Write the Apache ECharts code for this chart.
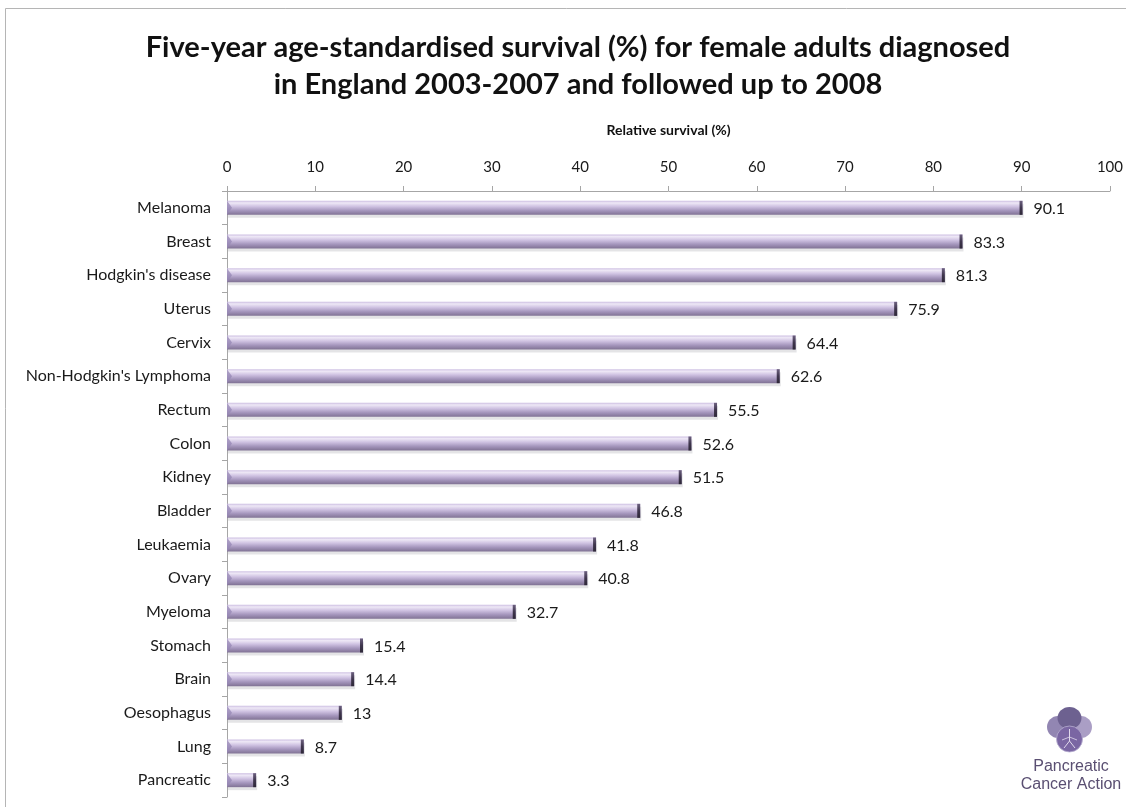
<!DOCTYPE html>
<html>
<head>
<meta charset="utf-8">
<script src="https://cdn.jsdelivr.net/npm/echarts@6/dist/echarts.min.js"></script>
<style>
  html, body { margin: 0; padding: 0; background: #ffffff; }
  #chart { width: 1126px; height: 807px; }
</style>
</head>
<body>
<div id="chart"></div>
<script>
// Five-year relative survival by cancer site, women, England
const categories = [
  'Melanoma', 'Breast', "Hodgkin's disease", 'Uterus', 'Cervix',
  "Non-Hodgkin's Lymphoma", 'Rectum', 'Colon', 'Kidney', 'Bladder',
  'Leukaemia', 'Ovary', 'Myeloma', 'Stomach', 'Brain', 'Oesophagus',
  'Lung', 'Pancreatic'
];
const survival = [
  90.1, 83.3, 81.3, 75.9, 64.4,
  62.6, 55.5, 52.6, 51.5, 46.8,
  41.8, 40.8, 32.7, 15.4, 14.4, 13,
  8.7, 3.3
];
const xTicks = [0, 10, 20, 30, 40, 50, 60, 70, 80, 90, 100];

const FONT = 'Lato, "Open Sans", sans-serif';

const chart = echarts.init(document.getElementById('chart'), null, { renderer: 'canvas' });

// Bevelled lavender bar with a dark end cap and a soft drop shadow
function renderBar(params, api) {
  const idx = api.value(0);
  const val = api.value(1);
  const p0 = api.coord([0, idx]);
  const p1 = api.coord([val, idx]);
  const band = api.size([0, 1])[1];
  const h = Math.round(band * 0.42);
  const y = p0[1] - h / 2;
  const w = p1[0] - p0[0];
  const cap = 3;
  return {
    type: 'group',
    children: [
      {
        type: 'rect',
        shape: { x: p0[0] + 1, y: y + 3, width: w, height: h },
        style: { fill: 'rgba(120,120,130,0.2)' },
        silent: true
      },
      {
        type: 'rect',
        shape: { x: p0[0], y: y, width: w, height: h },
        style: {
          fill: new echarts.graphic.LinearGradient(0, 0, 0, 1, [
            { offset: 0, color: '#cdbfe2' },
            { offset: 0.15, color: '#eee8f6' },
            { offset: 0.4, color: '#cfc2e2' },
            { offset: 0.7, color: '#a495bc' },
            { offset: 1, color: '#807294' }
          ])
        }
      },
      {
        type: 'polygon',
        shape: { points: [[p0[0], y], [p0[0] + 5, y + h / 2], [p0[0], y + h]] },
        style: { fill: 'rgba(150,135,180,0.75)' }
      },
      {
        type: 'rect',
        shape: { x: p1[0] - cap, y: y, width: cap, height: h },
        style: {
          fill: new echarts.graphic.LinearGradient(0, 0, 0, 1, [
            { offset: 0, color: '#6d6180' },
            { offset: 0.5, color: '#3f364d' },
            { offset: 1, color: '#2e2838' }
          ])
        }
      },
      {
        type: 'text',
        style: {
          text: String(val),
          x: p1[0] + 11,
          y: p0[1] + 1,
          verticalAlign: 'middle',
          align: 'left',
          fill: '#1a1a1a',
          font: '16px ' + FONT
        }
      }
    ]
  };
}

chart.setOption({
  backgroundColor: '#ffffff',
  animation: false,
  title: {
    text: 'Five-year age-standardised survival (%) for female adults diagnosed\nin England 2003-2007 and followed up to 2008',
    left: 573,
    top: 24,
    textAlign: 'center',
    textStyle: {
      fontFamily: FONT,
      fontWeight: 'bold',
      fontSize: 29,
      lineHeight: 37,
      color: '#111111'
    }
  },
  grid: {
    left: 227,
    right: 15,
    top: 191,
    bottom: 10,
    containLabel: false
  },
  xAxis: {
    type: 'value',
    position: 'top',
    min: 0,
    max: 100,
    interval: 10,
    name: 'Relative survival (%)',
    nameLocation: 'middle',
    nameGap: 54,
    nameTextStyle: {
      fontFamily: FONT,
      fontWeight: 'bold',
      fontSize: 14,
      color: '#111111'
    },
    axisLine: { show: true, lineStyle: { color: '#a6a6a6', width: 1 } },
    axisTick: { show: true, inside: false, length: 5, lineStyle: { color: '#a6a6a6' } },
    axisLabel: {
      margin: 16,
      fontFamily: FONT,
      fontSize: 15,
      color: '#1a1a1a',
      formatter: function (v) { return xTicks.indexOf(v) >= 0 ? String(v) : ''; }
    },
    splitLine: { show: false }
  },
  yAxis: {
    type: 'category',
    data: categories,
    inverse: true,
    axisLine: { show: true, lineStyle: { color: '#a6a6a6', width: 1 } },
    axisTick: { show: true, length: 5, alignWithLabel: false, lineStyle: { color: '#a6a6a6' } },
    axisLabel: {
      margin: 16,
      fontFamily: FONT,
      fontSize: 16,
      color: '#1a1a1a'
    }
  },
  series: [
    {
      type: 'custom',
      renderItem: renderBar,
      encode: { x: 1, y: 0 },
      data: survival.map(function (v, i) { return [i, v]; }),
      clip: false
    }
  ],
  graphic: [
    // outer frame
    {
      type: 'rect',
      shape: { x: 5.5, y: 8.5, width: 1200, height: 900 },
      style: { fill: null, stroke: '#b5b5b5', lineWidth: 1 },
      silent: true,
      z: -1
    },
    // logo: pansy mark
    {
      type: 'group',
      x: 1047,
      y: 707,
      children: [
        { type: 'ellipse', shape: { cx: 11, cy: 20, rx: 11, ry: 11 }, style: { fill: '#9286b2' } },
        { type: 'ellipse', shape: { cx: 34, cy: 20, rx: 11, ry: 11 }, style: { fill: '#aa9ec5' } },
        { type: 'ellipse', shape: { cx: 22.5, cy: 11, rx: 12, ry: 11 }, style: { fill: '#6d6190' } },
        { type: 'circle', shape: { cx: 22.5, cy: 32, r: 13 }, style: { fill: '#7a66a3', stroke: '#b8aed0', lineWidth: 0.8 } },
        { type: 'polyline', shape: { points: [[22.5, 22], [22.5, 34], [17, 41]] }, style: { stroke: '#e0d9ec', lineWidth: 1, fill: null } },
        { type: 'polyline', shape: { points: [[22.5, 34], [28, 41]] }, style: { stroke: '#e0d9ec', lineWidth: 1, fill: null } },
        { type: 'polyline', shape: { points: [[22.5, 30], [15, 33]] }, style: { stroke: '#e0d9ec', lineWidth: 0.8, fill: null } },
        { type: 'polyline', shape: { points: [[22.5, 30], [30, 33]] }, style: { stroke: '#e0d9ec', lineWidth: 0.8, fill: null } }
      ]
    },
    {
      type: 'text',
      x: 1071,
      y: 758,
      style: {
        text: 'Pancreatic\nCancer Action',
        align: 'center',
        fill: '#5a4f72',
        font: '16px "Liberation Sans", Arial, sans-serif',
        lineHeight: 18
      }
    }
  ]
});
</script>
</body>
</html>
